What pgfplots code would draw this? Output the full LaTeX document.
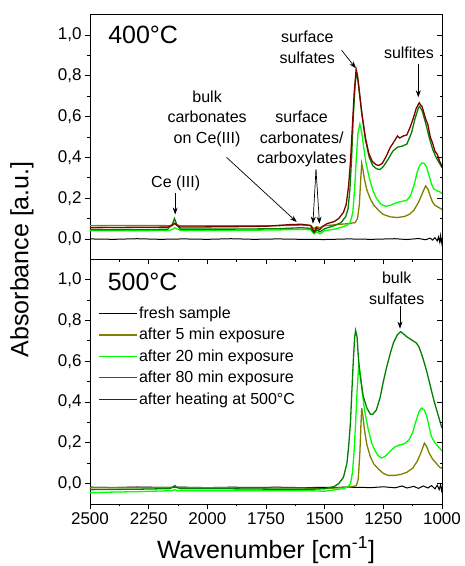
\documentclass[border=0pt]{standalone}
\usepackage{pgfplots}
\pgfplotsset{compat=1.18}
\usepackage{fontspec}
\setmainfont{Liberation Sans}
\usetikzlibrary{arrows.meta}
\definecolor{colive}{RGB}{128,128,0}
\definecolor{cbright}{RGB}{0,255,0}
\definecolor{cdark}{RGB}{0,128,0}
\definecolor{cwine}{RGB}{128,0,0}
\newcommand{\tickfont}{\fontsize{17}{17}\selectfont}
\newcommand{\annfont}{\fontsize{16}{20.5}\selectfont}
\newcommand{\bigfont}{\fontsize{25}{25}\selectfont}
\tikzset{arr/.style={-{Stealth[length=7pt,width=5pt]}, line width=0.7pt, black}}
\pgfplotsset{
  geom/.style={scale only axis, width=352pt, height=244.6pt,
    xmin=1000, xmax=2500, x dir=reverse, ymin=-0.1, ymax=1.1},
  panel/.style={geom,
    xtick={1000,1250,1500,1750,2000,2250,2500},
    ytick={0,0.2,0.4,0.6,0.8,1.0},
    yticklabels={{0,0},{0,2},{0,4},{0,6},{0,8},{1,0}},
    minor x tick num=1, minor y tick num=1,
    tick align=outside, xtick pos=bottom, ytick pos=left,
    major tick length=5pt, minor tick length=2.5pt,
    every tick/.style={black, line width=0.8pt},
    axis line style={black, line width=0.8pt},
    tick label style={font=\tickfont},
    every axis plot/.append style={line width=1.3pt},
  },
  rightticks/.style={geom, hide x axis, axis y line*=right,
    ytick={0,0.2,0.4,0.6,0.8,1.0}, minor y tick num=1, yticklabels={},
    tick align=inside, major tick length=5pt, minor tick length=2.5pt,
    every tick/.style={black, line width=0.8pt},
    axis line style={black, line width=0.8pt}},
}
\pgfplotstableread{
x y
2500 0.000
2400 -0.002
2300 0.001
2200 -0.002
2100 0.000
2000 -0.002
1900 0.001
1800 -0.002
1700 0.000
1600 -0.002
1500 -0.003
1400 0.000
1300 -0.002
1200 0.001
1150 -0.003
1100 0.002
1070 -0.004
1050 0.004
1040 -0.006
1030 0.006
1020 -0.010
1015 0.010
1010 -0.014
1006 0.016
1003 -0.018
1000 0.004
}\topblack
\pgfplotstableread{
x y
2500 0.065
2300 0.066
2160 0.065
2145 0.071
2138 0.075
2130 0.070
2115 0.064
1900 0.064
1700 0.065
1600 0.068
1560 0.066
1545 0.050
1535 0.060
1520 0.055
1500 0.065
1450 0.070
1400 0.075
1370 0.080
1360 0.100
1352 0.170
1347 0.280
1342 0.370
1337 0.340
1330 0.290
1320 0.240
1305 0.195
1290 0.165
1270 0.140
1250 0.120
1220 0.108
1190 0.105
1160 0.110
1140 0.120
1120 0.140
1100 0.180
1085 0.220
1070 0.260
1060 0.245
1050 0.210
1040 0.180
1030 0.165
1015 0.155
1000 0.145
}\topolive
\pgfplotstableread{
x y
2500 0.040
2300 0.040
2160 0.042
2145 0.050
2138 0.055
2130 0.050
2115 0.042
1900 0.042
1700 0.044
1600 0.047
1560 0.045
1545 0.025
1535 0.035
1520 0.025
1500 0.040
1450 0.050
1420 0.060
1400 0.070
1390 0.085
1380 0.130
1372 0.250
1365 0.400
1358 0.520
1350 0.563
1343 0.530
1335 0.460
1325 0.380
1310 0.300
1295 0.240
1280 0.200
1260 0.170
1240 0.160
1220 0.165
1200 0.175
1175 0.183
1150 0.190
1135 0.210
1120 0.260
1105 0.330
1095 0.360
1085 0.373
1075 0.370
1065 0.350
1055 0.310
1045 0.270
1035 0.245
1020 0.235
1010 0.232
1000 0.222
}\topbright
\pgfplotstableread{
x y
2500 0.045
2300 0.046
2170 0.047
2150 0.070
2140 0.100
2130 0.070
2115 0.048
1900 0.048
1700 0.050
1600 0.055
1560 0.052
1545 0.030
1535 0.045
1520 0.035
1500 0.050
1460 0.065
1430 0.080
1410 0.110
1400 0.150
1392 0.250
1385 0.400
1378 0.600
1370 0.760
1364 0.820
1358 0.780
1350 0.700
1340 0.600
1325 0.480
1310 0.400
1295 0.360
1280 0.345
1265 0.340
1250 0.355
1230 0.390
1210 0.430
1190 0.450
1170 0.455
1150 0.465
1130 0.520
1115 0.590
1100 0.645
1095 0.650
1085 0.630
1070 0.570
1055 0.500
1040 0.440
1025 0.400
1010 0.370
1000 0.350
}\topdark
\pgfplotstableread{
x y
2500 0.055
2300 0.057
2170 0.058
2150 0.065
2140 0.077
2130 0.066
2115 0.058
1900 0.060
1750 0.062
1650 0.070
1600 0.072
1560 0.066
1545 0.035
1535 0.055
1522 0.045
1510 0.060
1490 0.075
1460 0.085
1440 0.100
1420 0.130
1408 0.170
1398 0.260
1390 0.380
1382 0.550
1374 0.720
1366 0.830
1360 0.800
1352 0.720
1342 0.620
1327 0.500
1312 0.420
1297 0.380
1282 0.365
1270 0.360
1255 0.370
1240 0.400
1220 0.450
1200 0.485
1190 0.505
1180 0.495
1165 0.505
1150 0.510
1135 0.550
1120 0.600
1110 0.640
1103 0.655
1097 0.668
1090 0.655
1085 0.650
1070 0.590
1060 0.560
1050 0.500
1040 0.470
1030 0.430
1020 0.415
1010 0.380
1005 0.370
1000 0.352
}\topred
\pgfplotstableread{
x y
2500 -0.018
2400 -0.020
2300 -0.017
2200 -0.019
2100 -0.018
2000 -0.020
1900 -0.018
1800 -0.019
1700 -0.018
1600 -0.020
1500 -0.019
1400 -0.018
1300 -0.020
1250 -0.016
1200 -0.021
1170 -0.012
1150 -0.022
1120 -0.014
1100 -0.024
1080 -0.012
1060 -0.022
1045 -0.010
1030 -0.026
1020 -0.008
1012 -0.030
1006 -0.006
1002 -0.032
1000 -0.015
}\botblack
\pgfplotstableread{
x y
2500 -0.020
2150 -0.020
2140 -0.015
2130 -0.020
1800 -0.022
1600 -0.022
1500 -0.025
1420 -0.020
1380 -0.015
1365 -0.010
1357 0.020
1350 0.150
1345 0.300
1342 0.370
1337 0.330
1330 0.260
1320 0.190
1305 0.130
1290 0.095
1270 0.070
1250 0.050
1230 0.040
1200 0.040
1175 0.045
1150 0.055
1125 0.075
1105 0.110
1090 0.150
1075 0.198
1065 0.180
1055 0.150
1040 0.120
1025 0.100
1010 0.080
1000 0.075
}\botolive
\pgfplotstableread{
x y
2500 -0.045
2400 -0.042
2300 -0.040
2150 -0.035
2140 -0.030
2130 -0.035
1900 -0.035
1700 -0.035
1550 -0.036
1500 -0.038
1450 -0.030
1420 -0.025
1400 -0.015
1390 0.000
1382 0.050
1375 0.150
1368 0.300
1362 0.450
1355 0.578
1348 0.540
1340 0.450
1330 0.360
1315 0.270
1300 0.200
1285 0.160
1270 0.135
1257 0.125
1240 0.135
1220 0.160
1200 0.180
1180 0.190
1160 0.195
1140 0.215
1125 0.250
1110 0.310
1097 0.355
1087 0.370
1075 0.360
1065 0.330
1055 0.280
1045 0.230
1030 0.200
1015 0.180
1000 0.160
}\botbright
\pgfplotstableread{
x y
2500 -0.030
2300 -0.028
2160 -0.025
2145 -0.015
2138 -0.010
2130 -0.018
2115 -0.025
1900 -0.026
1700 -0.028
1550 -0.028
1500 -0.025
1460 -0.015
1440 0.000
1420 0.030
1405 0.100
1398 0.180
1390 0.300
1385 0.430
1378 0.600
1372 0.720
1368 0.751
1362 0.720
1357 0.630
1350 0.540
1336 0.430
1320 0.370
1305 0.340
1295 0.340
1280 0.360
1264 0.420
1250 0.500
1236 0.570
1220 0.640
1207 0.690
1190 0.730
1176 0.745
1165 0.735
1150 0.720
1130 0.705
1110 0.690
1100 0.675
1090 0.645
1080 0.610
1065 0.550
1050 0.480
1035 0.410
1020 0.350
1010 0.310
1000 0.272
}\botdark
\begin{document}
\begin{tikzpicture}
\useasboundingbox (-90pt,14.7pt) rectangle (375pt,-551.3pt);
% ---------- top panel (400 C) ----------
\begin{axis}[panel, at={(0pt,0pt)}, anchor=north west, xticklabels={}]
\addplot[black, line width=1pt] table {\topblack};
\addplot[colive] table {\topolive};
\addplot[cbright] table {\topbright};
\addplot[cdark] table {\topdark};
\addplot[cwine] table {\topred};
\node[anchor=west, inner sep=0pt, font=\bigfont] at (axis cs:2423,1.0) {400°C};
\node[font=\annfont] at (axis cs:2135,0.273) {Ce (III)};
\draw[arr] (axis cs:2137,0.225) -- (axis cs:2137,0.12);
\node[font=\annfont, align=center] at (axis cs:2001,0.59) {bulk\\carbonates\\on Ce(III)};
\draw[arr] (axis cs:1918,0.40) -- (axis cs:1619,0.083);
\node[font=\annfont, align=center] at (axis cs:1598,0.49) {surface\\carbonates/\\carboxylates};
\draw[arr] (axis cs:1537,0.34) -- (axis cs:1550,0.075);
\draw[arr] (axis cs:1537,0.34) -- (axis cs:1522,0.075);
\node[font=\annfont, align=center] at (axis cs:1574,0.94) {surface\\sulfates};
\draw[arr] (axis cs:1428,0.926) -- (axis cs:1367,0.837);
\node[font=\annfont] at (axis cs:1141,0.915) {sulfites};
\draw[arr] (axis cs:1101,0.86) -- (axis cs:1101,0.695);
\end{axis}
\begin{axis}[rightticks, at={(0pt,0pt)}, anchor=north west]
\end{axis}
% ---------- bottom panel (500 C) ----------
\begin{axis}[panel, at={(0pt,-244.6pt)}, anchor=north west,
  xticklabels={1000,1250,1500,1750,2000,2250,2500},
  legend style={at={(0.023,0.812)}, anchor=north west, draw=none, fill=none,
    inner sep=0pt, font=\fontsize{16}{16}\selectfont, row sep=5.3pt,
    nodes={inner sep=1.5pt}},
  legend cell align=left,
  legend image code/.code={\draw[#1] (0pt,0pt) -- (38pt,0pt);}]
\addplot[black, line width=1pt] table {\botblack};
\addlegendentry{fresh sample}
\addplot[colive] table {\botolive};
\addlegendentry{after 5 min exposure}
\addplot[cbright] table {\botbright};
\addlegendentry{after 20 min exposure}
\addplot[cdark] table {\botdark};
\addlegendentry{after 80 min exposure}
\addlegendimage{cwine, line width=0.9pt}
\addlegendentry{after heating at 500°C}
\node[anchor=west, inner sep=0pt, font=\bigfont] at (axis cs:2425,0.99) {500°C};
\node[font=\annfont, align=center] at (axis cs:1193,0.957) {bulk\\sulfates};
\draw[arr] (axis cs:1179,0.87) -- (axis cs:1179,0.76);
\end{axis}
\begin{axis}[rightticks, at={(0pt,-244.6pt)}, anchor=north west]
\end{axis}
\node[rotate=90, font=\bigfont] at (-68pt,-244.6pt) {Absorbance [a.u.]};
\node[anchor=base, font=\bigfont] at (176pt,-543.3pt) {Wavenumber [cm\textsuperscript{-1}]};
\end{tikzpicture}
\end{document}
